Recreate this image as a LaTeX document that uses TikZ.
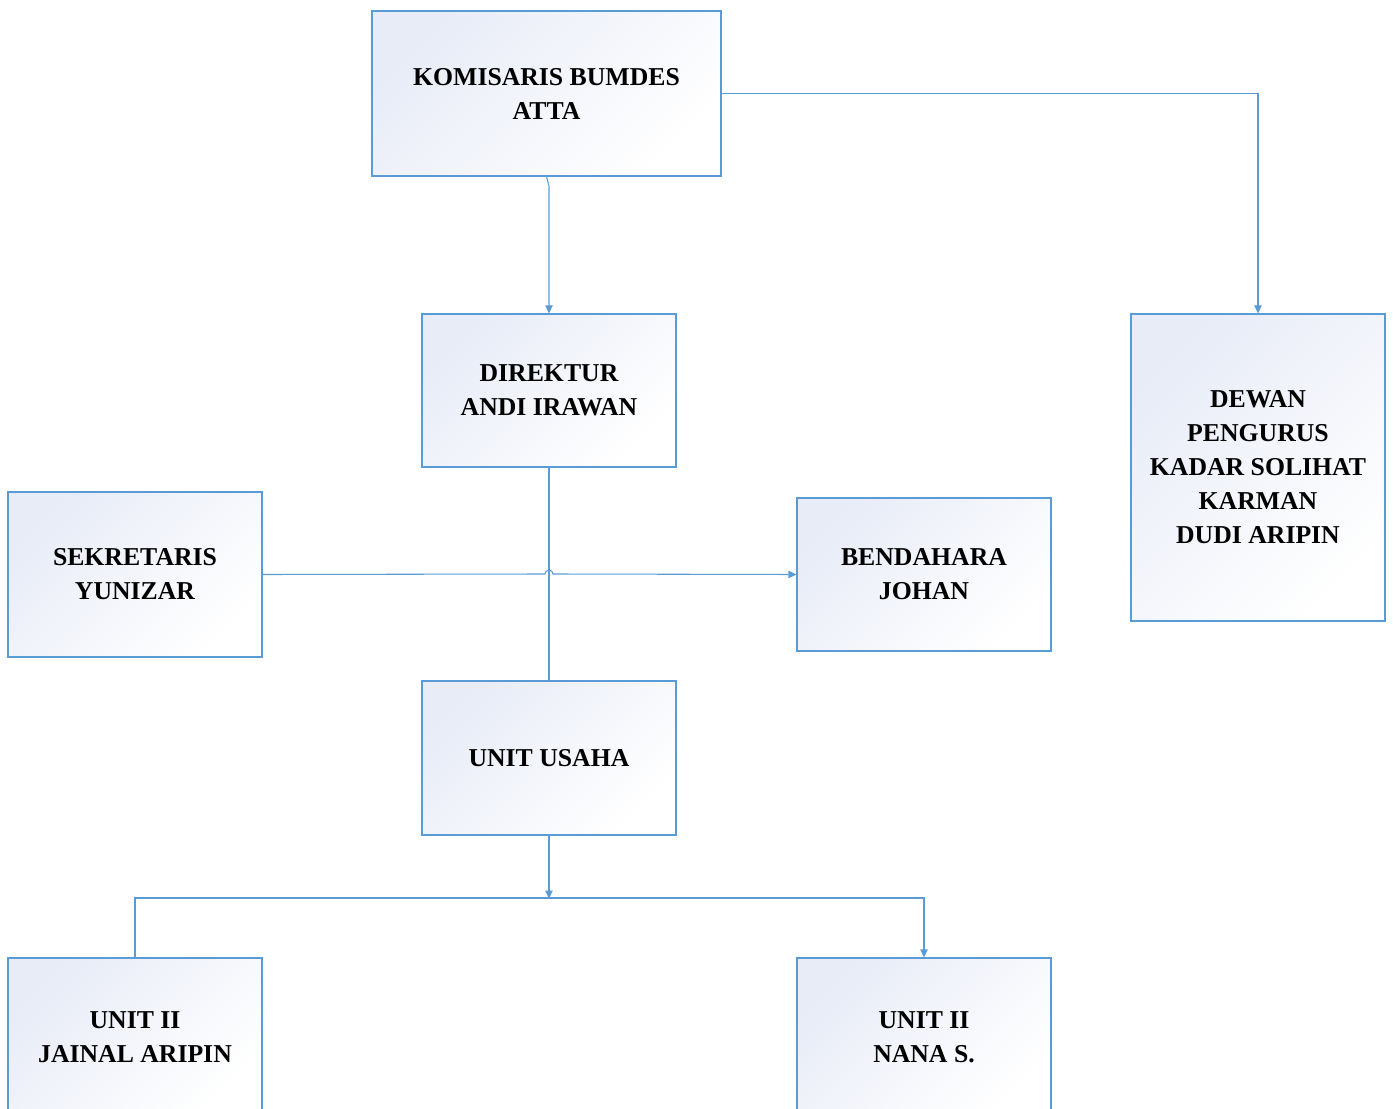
\documentclass[tikz,border=0pt]{standalone}
\usepackage{fontspec}
\setmainfont{Liberation Serif}
\usetikzlibrary{fit,arrows.meta}
\definecolor{ln}{RGB}{91,155,213}
\definecolor{fl}{RGB}{232,236,247}
\begin{document}
\begin{tikzpicture}[x=0.75pt,y=-0.75pt,
  box/.style={draw=ln,line width=0.8pt,inner sep=0pt,
    top color=fl,bottom color=white,shading angle=45},
  txt/.style={align=center,inner sep=0pt,
    font=\fontsize{19.3}{25.5}\selectfont\bfseries},
  conn/.style={draw=ln,line width=0.8pt},
  arr/.style={conn,-{Triangle[width=5.5pt,length=6pt]}}]
\useasboundingbox (0,0) rectangle (1393,1109);
\clip (0,0) rectangle (1393,1109);
\node[box,fit={(372,11) (721,176)}] (kom) {};
\node[box,fit={(422,314) (676,467)}] (dir) {};
\node[box,fit={(1131,314) (1385,621)}] (dewan) {};
\node[box,fit={(8,492) (262,657)}] (sek) {};
\node[box,fit={(797,498) (1051,651)}] (bend) {};
\node[box,fit={(422,681) (676,835)}] (usaha) {};
\node[box,fit={(8,958) (262,1114)}] (u1) {};
\node[box,fit={(797,958) (1051,1114)}] (u2) {};
\node[txt] (komt) at (kom.center) {KOMISARIS BUMDES\\ATTA};
\node[txt] (dirt) at (dir.center) {DIREKTUR\\ANDI IRAWAN};
\node[txt] (dewant) at (dewan.center) {DEWAN\\PENGURUS\\KADAR SOLIHAT\\KARMAN\\DUDI ARIPIN};
\node[txt] (sekt) at (sek.center) {SEKRETARIS\\YUNIZAR};
\node[txt] (bendt) at (bend.center) {BENDAHARA\\JOHAN};
\node[txt] (usahat) at (usaha.center) {UNIT USAHA};
\node[txt] (u1t) at ([yshift=-1pt]u1.center) {UNIT II\\JAINAL ARIPIN};
\node[txt] (u2t) at ([yshift=-1pt]u2.center) {UNIT II\\NANA S.};
\coordinate (kink) at (549,186);
\coordinate (join) at (549,898);
% connectors
\draw[arr] (kom.south) -- (kink) -- (dir.north -| kink);
\draw[arr] (kom.east) -| (dewan.north);
\draw[conn] (dir.south -| kink) -- (usaha.north -| kink);
\draw[arr] (sek.east) -- (545,574) arc[start angle=180,end angle=360,radius=4] -- (bend.west);
\draw[arr] (usaha.south -| kink) -- ([yshift=-0.5pt]join);
\draw[arr] (u1.north) -- (u1.north |- join) -| (u2.north);
\end{tikzpicture}
\end{document}
